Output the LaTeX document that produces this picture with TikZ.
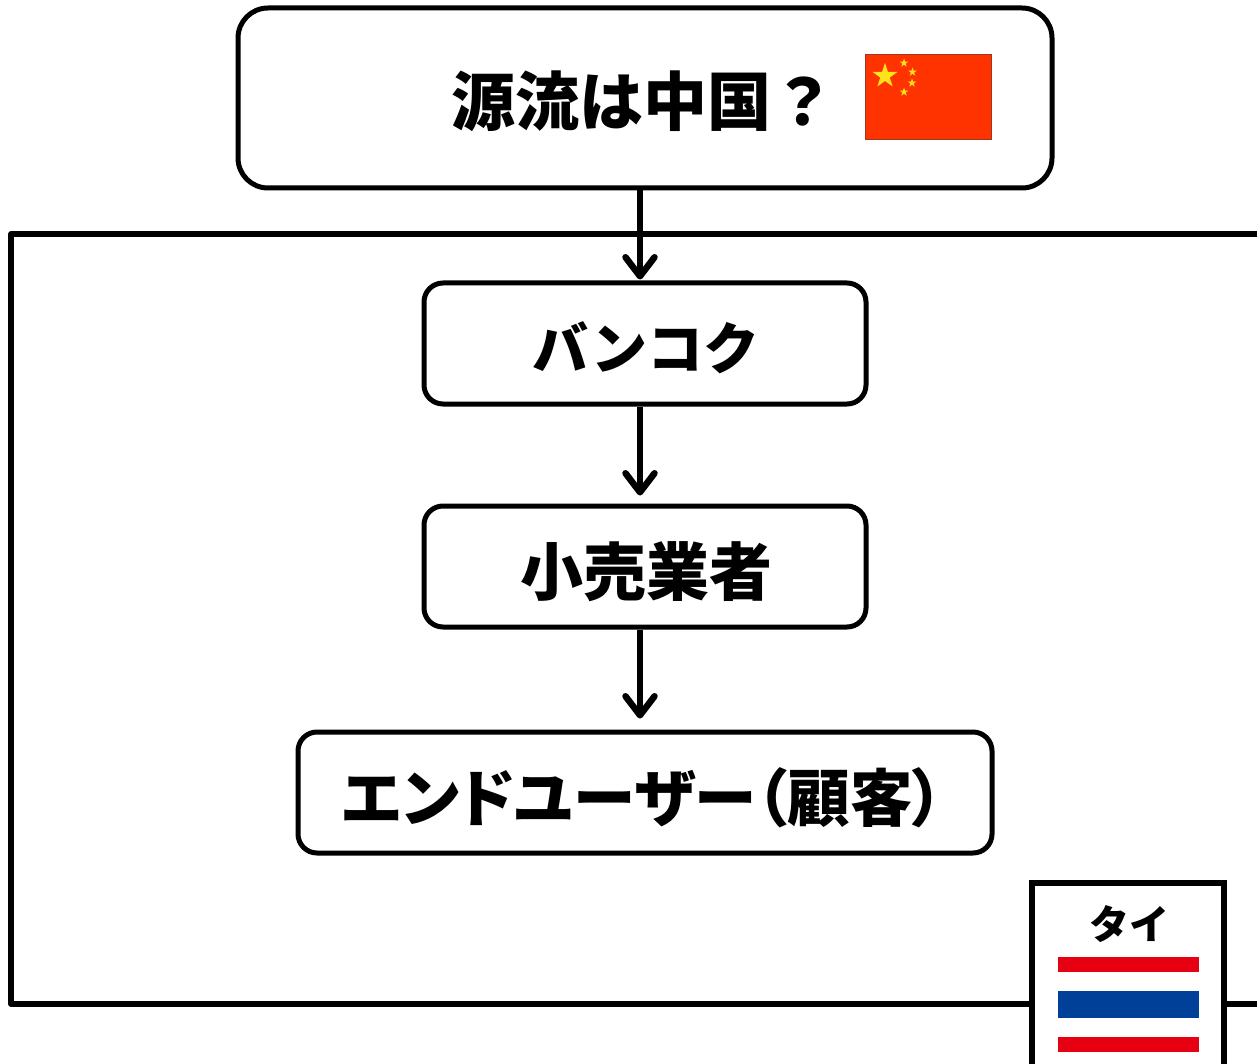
\documentclass[tikz,border=0pt]{standalone}
\usepackage{fontspec}
\usetikzlibrary{arrows.meta,shapes.geometric}
\newfontfamily\jp{Noto Sans CJK JP}
\newfontfamily\jpp{Noto Sans CJK JP}[RawFeature=+palt]
\definecolor{cnred}{HTML}{FF3300}
\definecolor{cnedge}{HTML}{9A3A20}
\definecolor{cnstar}{HTML}{FFE31A}
\definecolor{thred}{HTML}{E60012}
\definecolor{thblue}{HTML}{004098}
\tikzset{
  x=1pt,y=-1pt,
  flowbox/.style={draw=black,line width=5pt,fill=white,inner sep=0pt},
  label/.style={inner sep=0pt,font=\jp\bfseries,text=black},
  flowarrow/.style={line width=6pt,-{Straight Barb[length=19pt,width=29pt,line width=6.5pt,round]}},
  bigstar/.style={star,star points=5,star point ratio=2.6,fill=cnstar,inner sep=0pt,minimum size=#1},
  band/.style={inner sep=0pt,outer sep=0pt,anchor=north west,minimum width=141pt},
}
\begin{document}
\begin{tikzpicture}
\useasboundingbox (0,0) rectangle (1257,1064);
\fill[white] (0,0) rectangle (1257,1064);
% frame
\coordinate (frameTR) at (1270,234);
\coordinate (frameTL) at (11,234);
\coordinate (frameBL) at (11,1004);
\coordinate (frameBR) at (1270,1004);
\draw[line width=5.5pt,line join=round] (frameTR) -- (frameTL) -- (frameBL) -- (frameBR);
% boxes
\node[flowbox,rounded corners=30pt,minimum width=814pt,minimum height=180pt] (origin) at (645,98) {};
\node[flowbox,rounded corners=19pt,minimum width=442pt,minimum height=121pt] (bangkok) at (645,343.5) {};
\node[flowbox,rounded corners=19pt,minimum width=442pt,minimum height=121pt] (retail) at (645,566.5) {};
\node[flowbox,rounded corners=19pt,minimum width=694pt,minimum height=121pt] (user) at (645,792.5) {};
% labels
\node[label,font=\jp\bfseries\fontsize{64}{64}\selectfont] (originT) at (643,101) {源流は中国？};
\node[label,font=\jp\bfseries\fontsize{56}{56}\selectfont] (bangkokT) at (646,348) {バンコク};
\node[label,font=\jp\bfseries\fontsize{63}{63}\selectfont] (retailT) at (646,572) {小売業者};
\node[label,font=\jpp\bfseries\fontsize{62.5}{63}\selectfont] (userT) at (643,798) {エンドユーザー（顧客）};
% arrows
\coordinate (ax) at (640,0);
\draw[flowarrow,shorten >=1pt] (origin.south -| ax) -- (bangkok.north -| ax);
\draw[flowarrow,shorten >=8pt] (bangkok.south -| ax) -- (retail.north -| ax);
\draw[flowarrow,shorten >=11pt] (retail.south -| ax) -- (user.north -| ax);
% China flag
\node[draw=cnedge,line width=1pt,fill=cnred,inner sep=0pt,minimum width=126pt,minimum height=85pt] (cn) at (928.5,97) {};
\node[bigstar=26pt] (s0) at (885,76) {};
\node[bigstar=9pt] (s1) at (904,63) {};
\node[bigstar=9pt] (s2) at (912.5,72) {};
\node[bigstar=9pt] (s3) at (912,83) {};
\node[bigstar=9pt] (s4) at (904,92) {};
% Thai box
\node[flowbox,line width=6pt,minimum width=192pt,minimum height=200pt,anchor=north west] (thai) at (1029,880) {};
\node[label,font=\jp\bfseries\fontsize{40}{40}\selectfont] (thaiT) at (1129,924) {タイ};
\node[band,fill=thred,minimum height=95pt] (th0) at (1058,957) {};
\node[band,fill=white,minimum height=65pt] (th1) at (1058,972) {};
\node[band,fill=thblue,minimum height=27pt] (th2) at (1058,991) {};
\end{tikzpicture}
\end{document}
